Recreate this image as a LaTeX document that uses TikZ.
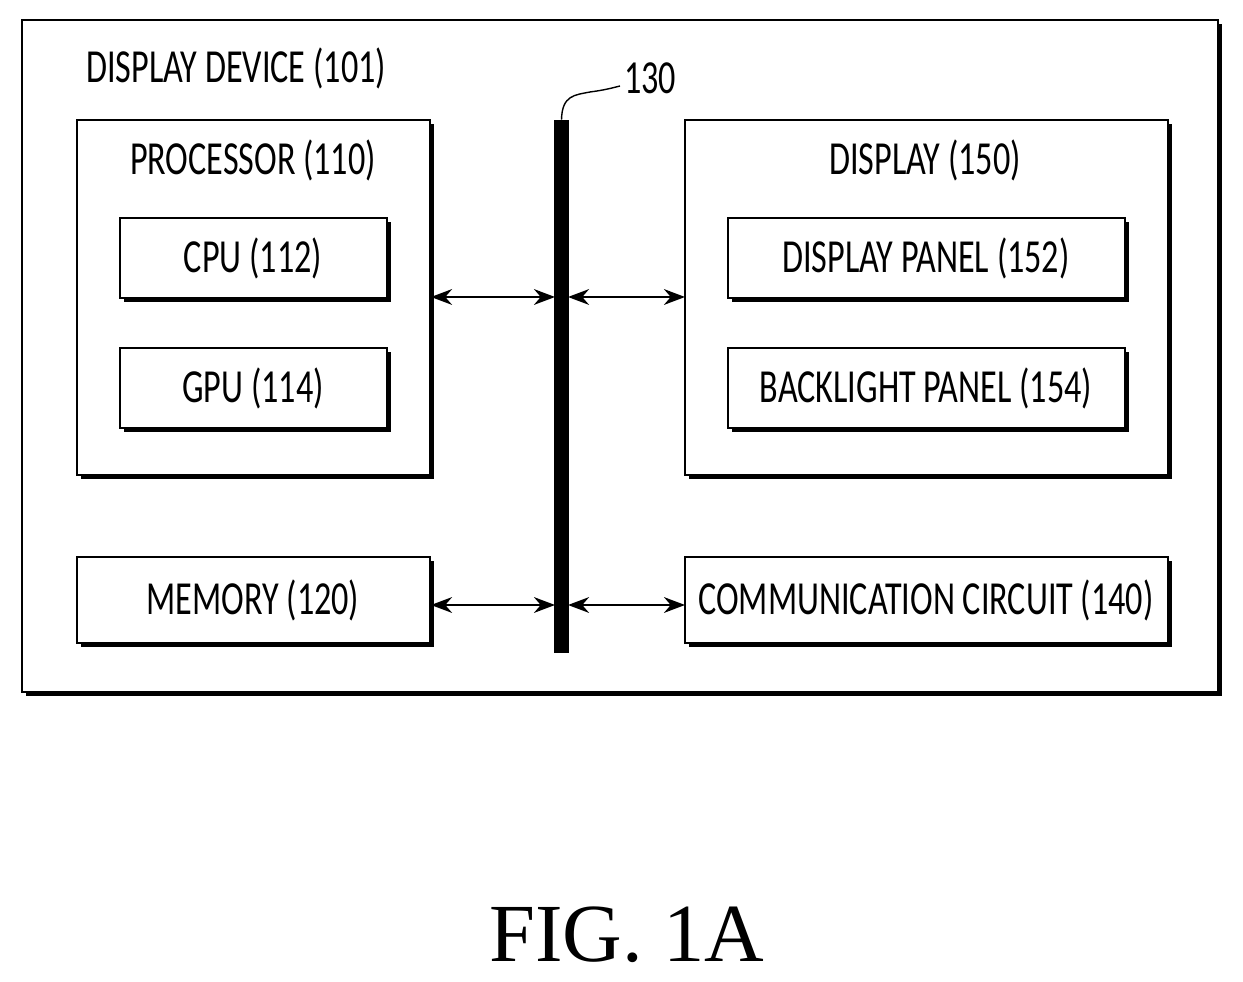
\documentclass[tikz,border=0pt]{standalone}
\usepackage{fontspec}
\setmainfont{Carlito}
\newfontfamily\condfont[FakeStretch=0.72]{Carlito}
\newfontfamily\figfont{Liberation Serif}
\usetikzlibrary{arrows.meta}
\begin{document}
\begin{tikzpicture}[x=0.02cm,y=-0.02cm,
  box/.style={draw,line width=1.2pt,inner sep=0,outer sep=0},
  sh/.style={line width=2.6pt},
  lbl/.style={font=\condfont\fontsize{27}{30}\selectfont},
  arr/.style={{Stealth[length=12pt,width=9pt]}-{Stealth[length=12pt,width=9pt]},line width=1.1pt}]
\useasboundingbox (0,0) rectangle (1243,982);
\newcommand\shbox[5]{%
  \draw[sh] (#1+4,#4+2) -- (#3+2,#4+2) -- (#3+2,#2+4);
  \draw[box] (#1,#2) rectangle (#3,#4);
  \node[inner sep=0] (#5) at ({(#1+#3)/2},{(#2+#4)/2}) {};}
\shbox{22}{20}{1218}{692}{dev}
\shbox{77}{120}{430}{475}{proc}
\shbox{120}{218}{387}{298}{cpu}
\shbox{120}{348}{387}{428}{gpu}
\shbox{685}{120}{1168}{475}{disp}
\shbox{728}{218}{1125}{298}{dpan}
\shbox{728}{348}{1125}{428}{bpan}
\shbox{77}{557}{430}{643}{mem}
\shbox{685}{557}{1168}{643}{comm}
\node[lbl,anchor=west] (t1) at (80,68) {DISPLAY DEVICE (101)};
\node[lbl] (t2) at (253,160) {PROCESSOR (110)};
\node[lbl] (t3) at (253,258) {CPU (112)};
\node[lbl] (t4) at (253,388) {GPU (114)};
\node[lbl] (t5) at (925,160) {DISPLAY (150)};
\node[lbl] (t6) at (926,258) {DISPLAY PANEL (152)};
\node[lbl] (t7) at (926,388) {BACKLIGHT PANEL (154)};
\node[lbl] (t8) at (253,600) {MEMORY (120)};
\node[lbl] (t9) at (926,600) {COMMUNICATION CIRCUIT (140)};
\node[fill=black,minimum width=0.3cm,minimum height=10.66cm,inner sep=0] (bus) at (561.5,386.5) {};
\node[lbl,anchor=west] (n130) at (618,78) {130};
\draw[line width=0.8pt] (bus.north) .. controls (562,95) and (575,95) .. (590,92) .. controls (605,90) and (612,88) .. (620,86);
\coordinate (a1) at (431,297); \coordinate (b1) at (555,297);
\coordinate (a2) at (568,297); \coordinate (b2) at (685,297);
\coordinate (a3) at (431,605); \coordinate (b3) at (555,605);
\coordinate (a4) at (568,605); \coordinate (b4) at (685,605);
\draw[arr] (a1) -- (b1); \draw[arr] (a2) -- (b2);
\draw[arr] (a3) -- (b3); \draw[arr] (a4) -- (b4);
\node[font=\figfont\fontsize{47}{50}\selectfont] (fig) at (627,935) {FIG.\ 1A};
\end{tikzpicture}
\end{document}
